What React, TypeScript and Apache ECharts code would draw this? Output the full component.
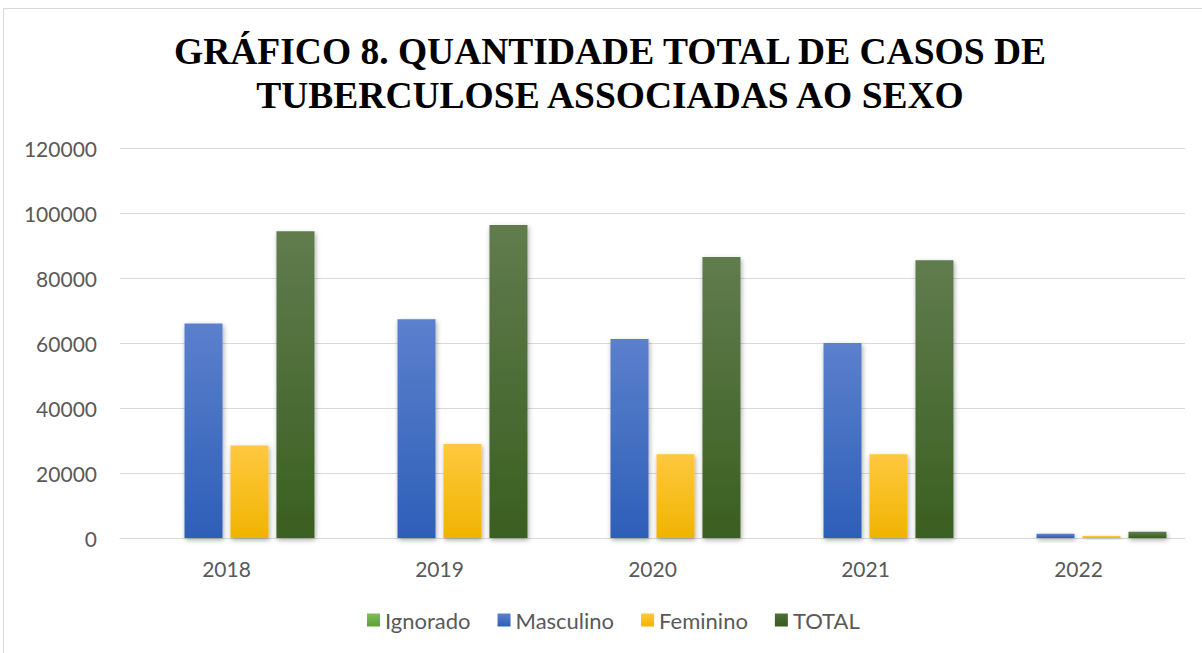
import React, { useEffect, useRef } from "react";
import * as echarts from "echarts";

const categories = ["2018", "2019", "2020", "2021", "2022"];
const ignorado = [20, 20, 20, 20, 5];
const masculino = [66000, 67300, 61200, 60000, 1300];
const feminino = [28500, 28900, 25800, 25800, 600];
const total = [94400, 96300, 86500, 85500, 1900];
const yTicks = { min: 0, max: 120000, interval: 20000 };

const grad = (top: string, bottom: string) =>
  new echarts.graphic.LinearGradient(0, 0, 0, 1, [
    { offset: 0, color: top },
    { offset: 1, color: bottom },
  ]);

export default function App() {
  const ref = useRef<HTMLDivElement>(null);
  useEffect(() => {
    document.body.style.margin = "0";
    const chart = echarts.init(ref.current!, null, { renderer: "svg" });
    const shadow = {
      shadowBlur: 5,
      shadowColor: "rgba(0,0,0,0.35)",
      shadowOffsetX: 1,
      shadowOffsetY: 2,
    };
    const mk = (name: string, data: number[], top: string, bottom: string) => ({
      name,
      type: "bar",
      data,
      barWidth: 38,
      barGap: "21%",
      itemStyle: { color: grad(top, bottom), ...shadow },
    });
    chart.setOption({
      animation: false,
      backgroundColor: "#ffffff",
      title: {
        text: "GRÁFICO 8. QUANTIDADE TOTAL DE CASOS DE\nTUBERCULOSE ASSOCIADAS AO SEXO",
        left: 605,
        textAlign: "center",
        top: 24,
        textStyle: {
          fontFamily: "Liberation Serif",
          fontWeight: "bold",
          fontSize: 37.5,
          lineHeight: 44,
          color: "#000000",
        },
      },
      graphic: [
        {
          type: "rect",
          shape: { x: 3.5, y: 8.5, width: 1300, height: 700 },
          style: { fill: "none", stroke: "#d9d9d9", lineWidth: 1 },
          silent: true,
        },
      ],
      legend: {
        bottom: 22,
        left: 367,
        padding: 0,
        icon: "rect",
        itemWidth: 13,
        itemHeight: 13,
        itemGap: 27,
        textStyle: { fontFamily: "Lato", fontSize: 22, color: "#595959" },
        data: [
          { name: "Ignorado", itemStyle: { color: grad("#7fbf55", "#5f9e3a"), shadowBlur: 0 } },
          { name: "Masculino", itemStyle: { color: grad("#5b80cc", "#2e5fb8"), shadowBlur: 0 } },
          { name: "Feminino", itemStyle: { color: grad("#ffc83f", "#f0b400"), shadowBlur: 0 } },
          { name: "TOTAL", itemStyle: { color: grad("#4e7034", "#375a1f"), shadowBlur: 0 } },
        ],
      },
      grid: { left: 120, right: 17, top: 148, bottom: 115 },
      xAxis: {
        type: "category",
        data: categories,
        axisLine: { lineStyle: { color: "#d9d9d9", width: 1 } },
        axisTick: { show: false },
        axisLabel: {
          fontFamily: "Lato",
          fontSize: 21,
          color: "#595959",
          margin: 20,
        },
      },
      yAxis: {
        type: "value",
        min: yTicks.min,
        max: yTicks.max,
        interval: yTicks.interval,
        axisLine: { show: false },
        axisTick: { show: false },
        splitLine: { lineStyle: { color: "#d9d9d9", width: 1 } },
        axisLabel: {
          fontFamily: "Lato",
          fontSize: 21,
          color: "#595959",
          margin: 23,
          formatter: (v: number) => String(v),
        },
      },
      series: [
        mk("Ignorado", ignorado, "#7fbf55", "#5f9e3a"),
        mk("Masculino", masculino, "#5b80cc", "#2e5fb8"),
        mk("Feminino", feminino, "#ffc83f", "#f0b400"),
        mk("TOTAL", total, "#607c4e", "#3a5f20"),
      ],
    });
    return () => chart.dispose();
  }, []);
  return (
    <div
      ref={ref}
      style={{ position: "absolute", left: 0, top: 0, width: 1202, height: 653 }}
    />
  );
}
